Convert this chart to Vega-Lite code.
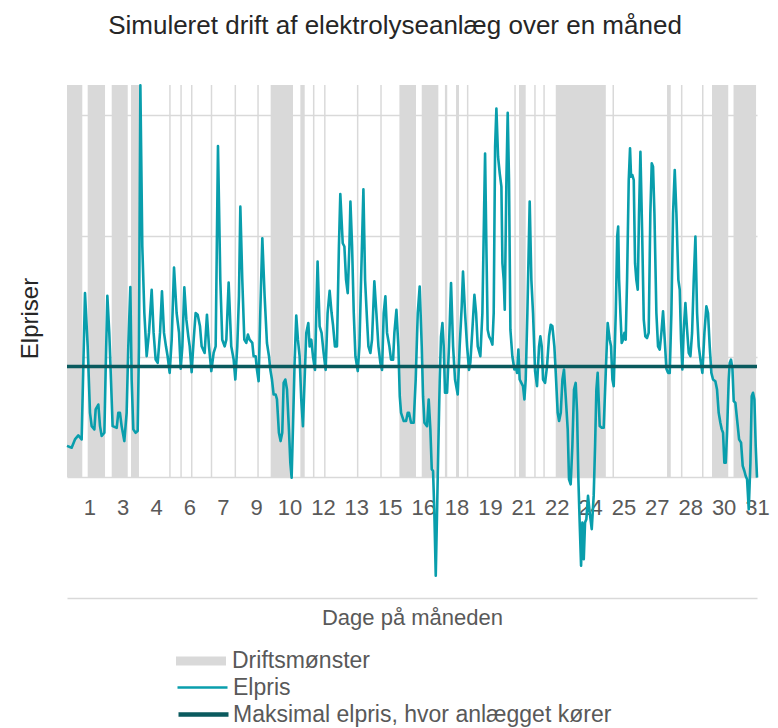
{
  "$schema": "https://vega.github.io/schema/vega-lite/v6.json",
  "width": 690,
  "height": 513,
  "autosize": {"type": "none"},
  "padding": {"left": 67, "top": 85, "right": 21, "bottom": 130},
  "background": "white",
  "title": {"text": "Simuleret drift af elektrolyseanlæg over en måned", "anchor": "middle", "frame": "group", "dx": -17, "offset": 45, "fontSize": 26, "font": "Liberation Sans", "fontWeight": "normal", "color": "#262626"},
  "config": {"view": {"stroke": null}, "font": "Liberation Sans", "axisX": {"labelOverlap": false, "labelFlush": false, "labelBound": false, "tickCount": 40}},
  "datasets": {
    "drift": [
      {"fra": 0, "til": 16.5}, {"fra": 22.3, "til": 41}, {"fra": 48.2, "til": 65.5}, {"fra": 69, "til": 77.6},
      {"fra": 110.2, "til": 111.8}, {"fra": 122.2, "til": 123.8}, {"fra": 133.7, "til": 135.3}, {"fra": 155, "til": 156.6},
      {"fra": 180.7, "til": 182.3}, {"fra": 205.2, "til": 206.8}, {"fra": 219.6, "til": 243.7}, {"fra": 251.6, "til": 256.3},
      {"fra": 265.2, "til": 266.8}, {"fra": 277.2, "til": 278.8}, {"fra": 312.6, "til": 314.2}, {"fra": 337.8, "til": 339.4},
      {"fra": 358.4, "til": 376.3}, {"fra": 382.5, "til": 400.4}, {"fra": 407.5, "til": 410}, {"fra": 419.5, "til": 422.7},
      {"fra": 431.2, "til": 432.8}, {"fra": 482.3, "til": 483.9}, {"fra": 487.4, "til": 494.6}, {"fra": 503.8, "til": 505.4},
      {"fra": 513.6, "til": 515.2}, {"fra": 527, "til": 581}, {"fra": 588.2, "til": 589.8}, {"fra": 647, "til": 651},
      {"fra": 662, "til": 663.6}, {"fra": 684.7, "til": 686.3}, {"fra": 695.5, "til": 713}, {"fra": 718.7, "til": 743}
    ],
    "elpris": [
      {"t":0,"pris":26},{"t":5,"pris":24.5},{"t":8.6,"pris":31.4},{"t":12.2,"pris":34.7},{"t":15.8,"pris":31.4},{"t":19.4,"pris":152.6},{"t":22.3,"pris":108.5},{"t":24.8,"pris":53.4},{"t":26.6,"pris":42.4},{"t":29.5,"pris":39.7},{"t":30.9,"pris":56.2},{"t":33.8,"pris":60.3},{"t":35.6,"pris":42.4},{"t":37.4,"pris":34.2},{"t":40.3,"pris":36.9},{"t":41.7,"pris":89.3},{"t":43.5,"pris":150.4},{"t":45.6,"pris":119.6},{"t":47.4,"pris":81},{"t":49.2,"pris":42.4},{"t":53.6,"pris":41},{"t":55.3,"pris":53.4},{"t":57.1,"pris":53.4},{"t":58.9,"pris":42.4},{"t":61.8,"pris":30},{"t":64.3,"pris":53.4},{"t":66.1,"pris":108.5},{"t":68.3,"pris":157.6},{"t":69.7,"pris":81},{"t":71.5,"pris":39.7},{"t":74,"pris":36.9},{"t":76.2,"pris":38.3},{"t":77.6,"pris":108.5},{"t":79.1,"pris":324.8},{"t":81.2,"pris":191.2},{"t":83.4,"pris":136.1},{"t":85.9,"pris":100.3},{"t":88.4,"pris":119.6},{"t":91.3,"pris":155.4},{"t":93.4,"pris":119.6},{"t":95.6,"pris":97.5},{"t":97.8,"pris":94.8},{"t":100.3,"pris":119.6},{"t":102.4,"pris":154},{"t":104.6,"pris":119.6},{"t":106.7,"pris":108.5},{"t":108.5,"pris":100.3},{"t":110.7,"pris":86.5},{"t":112.9,"pris":114},{"t":115.4,"pris":173.8},{"t":118.2,"pris":136.1},{"t":120.8,"pris":119.6},{"t":122.6,"pris":90},{"t":124.4,"pris":108.5},{"t":126.5,"pris":157.3},{"t":128.7,"pris":130.6},{"t":130.8,"pris":116.8},{"t":132.3,"pris":108.5},{"t":134.4,"pris":87.1},{"t":136.6,"pris":114},{"t":138.7,"pris":136.1},{"t":140.9,"pris":134.7},{"t":143.4,"pris":125.1},{"t":145.2,"pris":108.5},
      {"t":148.4,"pris":103},{"t":150.9,"pris":134.7},{"t":153.1,"pris":108.5},{"t":155.6,"pris":88},{"t":158.1,"pris":103},{"t":160.3,"pris":108.5},{"t":162.8,"pris":274.4},{"t":165.3,"pris":163.6},{"t":167.4,"pris":114},{"t":170,"pris":108.5},{"t":171.8,"pris":114},{"t":174.3,"pris":161.4},{"t":177.1,"pris":108.5},{"t":179.7,"pris":97.5},{"t":181.5,"pris":81},{"t":183.6,"pris":108.5},{"t":185.4,"pris":149.9},{"t":186.9,"pris":224.2},{"t":189,"pris":163.6},{"t":191.2,"pris":114},{"t":193.3,"pris":111.3},{"t":195.1,"pris":118.2},{"t":196.9,"pris":114},{"t":199.8,"pris":111.3},{"t":201.2,"pris":100.3},{"t":203.4,"pris":100.3},{"t":204.8,"pris":89.3},{"t":206.6,"pris":79.6},{"t":208.4,"pris":136.1},{"t":210.6,"pris":198.1},{"t":213.1,"pris":149.9},{"t":215.6,"pris":111.3},{"t":217.8,"pris":100.3},{"t":219.2,"pris":89.3},{"t":221,"pris":81},{"t":222.8,"pris":68.6},{"t":225,"pris":68.6},{"t":226.4,"pris":64.5},{"t":228.5,"pris":36.9},{"t":230.3,"pris":30},{"t":232.1,"pris":36.9},{"t":233.6,"pris":78.2},{"t":235.4,"pris":81},{"t":237.2,"pris":72.7},{"t":239.3,"pris":39.7},{"t":240.8,"pris":12.1},{"t":242.2,"pris":-0.3},{"t":243.6,"pris":39.7},{"t":245.4,"pris":94.8},{"t":247.2,"pris":133.9},{"t":249,"pris":114},{"t":250.8,"pris":100.3},{"t":252.6,"pris":64.5},{"t":254.4,"pris":42.4},{"t":256.2,"pris":81},{"t":258,"pris":119.6},{"t":260.2,"pris":127.8},{"t":261.6,"pris":108.5},{"t":263.4,"pris":114},{"t":265.2,"pris":100.3},{"t":267.4,"pris":89},{"t":268.8,"pris":136.1},{"t":270.2,"pris":178.8},{"t":272.4,"pris":125.1},{"t":274.5,"pris":119.6},{"t":276.7,"pris":103},{"t":278.9,"pris":89},{"t":281,"pris":136.1},{"t":283.2,"pris":154.5},{"t":285.3,"pris":136.1},{"t":286.8,"pris":126.4},{"t":288.9,"pris":108.5},{"t":291.1,"pris":108.5},{"t":293.2,"pris":191.2},{"t":294.7,"pris":234.7},
      {"t":297.3,"pris":193.9},{"t":299.1,"pris":191.2},{"t":300.9,"pris":163.6},{"t":302.7,"pris":152.6},{"t":304.5,"pris":191.2},{"t":305.6,"pris":228.4},{"t":307.4,"pris":191.2},{"t":309.2,"pris":136.1},{"t":311,"pris":100.3},{"t":313.5,"pris":88},{"t":315.3,"pris":108.5},{"t":317.1,"pris":163.6},{"t":319.6,"pris":238.6},{"t":321.4,"pris":163.6},{"t":323.5,"pris":130.6},{"t":325,"pris":108.5},{"t":327.1,"pris":103},{"t":328.9,"pris":114},{"t":331.4,"pris":162.3},{"t":333.6,"pris":136.1},{"t":335.8,"pris":108.5},{"t":337.9,"pris":94.8},{"t":339.7,"pris":89},{"t":341.5,"pris":136.1},{"t":343.3,"pris":149.9},{"t":345.1,"pris":119.6},{"t":347.6,"pris":108.5},{"t":349.4,"pris":97.5},{"t":351.6,"pris":97.5},{"t":353,"pris":119.6},{"t":355.2,"pris":138.8},{"t":357.3,"pris":108.5},{"t":358.8,"pris":67.2},{"t":360.2,"pris":53.4},{"t":363.1,"pris":46.6},{"t":365.6,"pris":46.6},{"t":367.4,"pris":53.4},{"t":368.8,"pris":53.4},{"t":371,"pris":45.2},{"t":373.8,"pris":45.2},{"t":376,"pris":81},{"t":378.2,"pris":136.1},{"t":380.3,"pris":158.1},{"t":382.5,"pris":108.5},{"t":383.9,"pris":67.2},{"t":385.4,"pris":45.2},{"t":388.2,"pris":42.4},{"t":390,"pris":64.5},{"t":391.8,"pris":39.7},{"t":393.3,"pris":6.6},{"t":394.7,"pris":5.2},{"t":396.1,"pris":-29.2},{"t":397.6,"pris":-81.5},{"t":399,"pris":-29.2},{"t":400.4,"pris":25.9},{"t":401.9,"pris":81},{"t":403.3,"pris":116.8},{"t":404.8,"pris":127.8},{"t":406.2,"pris":108.5},{"t":407.6,"pris":70},{"t":409.8,"pris":70},{"t":411.9,"pris":108.5},{"t":414.1,"pris":160.9},{"t":416.3,"pris":108.5},{"t":418.4,"pris":81},{"t":421.3,"pris":68.6},{"t":423.4,"pris":108.5},{"t":425.6,"pris":141.6},{"t":427,"pris":170.5},{"t":429.2,"pris":136.1},{"t":431.4,"pris":108.5},{"t":433.5,"pris":89},{"t":434.9,"pris":94.8},{"t":437.1,"pris":122.3},{"t":439.3,"pris":151.2},{"t":441.1,"pris":136.1},{"t":442.9,"pris":108.5},{"t":445.7,"pris":100.3},
      {"t":447.9,"pris":136.1},{"t":449.7,"pris":218.7},{"t":450.8,"pris":268.3},{"t":452.2,"pris":191.2},{"t":453.6,"pris":122.3},{"t":455.1,"pris":116.8},{"t":456.9,"pris":114},{"t":458.7,"pris":109.9},{"t":460.1,"pris":136.1},{"t":461.6,"pris":273.8},{"t":463,"pris":305.5},{"t":464.8,"pris":265.6},{"t":466.6,"pris":251.8},{"t":468.4,"pris":240.8},{"t":469.5,"pris":177.4},{"t":470.9,"pris":163.6},{"t":472,"pris":138.8},{"t":473.8,"pris":246.3},{"t":475.2,"pris":301.9},{"t":476.6,"pris":246.3},{"t":478.1,"pris":122.3},{"t":480.2,"pris":100.3},{"t":482.4,"pris":89.3},{"t":483.8,"pris":92},{"t":485.3,"pris":86.5},{"t":486.7,"pris":105.8},{"t":488.1,"pris":81},{"t":489.9,"pris":78.2},{"t":491.7,"pris":75.5},{"t":493.2,"pris":64.5},{"t":494.6,"pris":81},{"t":496.4,"pris":136.1},{"t":498.9,"pris":228.4},{"t":500.7,"pris":163.6},{"t":502.5,"pris":136.1},{"t":504.7,"pris":88},{"t":506.8,"pris":75.5},{"t":509,"pris":108.5},{"t":510.4,"pris":116.8},{"t":511.9,"pris":108.5},{"t":513.3,"pris":81},{"t":515.5,"pris":78.2},{"t":517.6,"pris":92},{"t":519.8,"pris":116.8},{"t":521.6,"pris":126.4},{"t":523.4,"pris":125.1},{"t":525.5,"pris":108.5},{"t":527,"pris":86.5},{"t":529.1,"pris":53.4},{"t":530.6,"pris":46.6},{"t":532.4,"pris":53.4},{"t":534.2,"pris":81},{"t":535.9,"pris":89.3},{"t":537.7,"pris":67.2},{"t":539.9,"pris":39.7},{"t":541.3,"pris":-1.7},{"t":543.1,"pris":-5.8},{"t":544.9,"pris":25.9},{"t":546.7,"pris":72.7},{"t":548.5,"pris":78.2},{"t":550,"pris":53.4},{"t":551.4,"pris":-1.7},{"t":552.8,"pris":-37.5},{"t":554.3,"pris":-73.3},{"t":555.7,"pris":-37.5},{"t":557.2,"pris":-67.8},{"t":558.6,"pris":-37.5},{"t":560,"pris":-34.7},{"t":561.8,"pris":-15.4},{"t":563.6,"pris":-29.2},{"t":565.8,"pris":-43},{"t":567.9,"pris":-15.4},{"t":569.4,"pris":25.9},{"t":570.8,"pris":72.7},{"t":572.2,"pris":86.5},{"t":574.4,"pris":42.4},{"t":576.6,"pris":41},{"t":578.7,"pris":41},{"t":580.9,"pris":86.5},{"t":583,"pris":127.8},{"t":585.2,"pris":114},{"t":586.6,"pris":108.5},{"t":588.1,"pris":81},{"t":589.5,"pris":75.5},{"t":591.7,"pris":136.1},{"t":593.3,"pris":200},
      {"t":594.3,"pris":207.7},{"t":595.3,"pris":163.6},{"t":596.7,"pris":136.1},{"t":598.1,"pris":111.3},{"t":599.6,"pris":114},{"t":601,"pris":119.6},{"t":602.4,"pris":114},{"t":603.9,"pris":163.6},{"t":605.7,"pris":246.3},{"t":607.1,"pris":272.5},{"t":608.2,"pris":249},{"t":609.6,"pris":250.4},{"t":611.1,"pris":246.3},{"t":612.5,"pris":177.4},{"t":613.9,"pris":163.6},{"t":615.4,"pris":155.4},{"t":616.8,"pris":218.7},{"t":618.3,"pris":269.7},{"t":620.1,"pris":205},{"t":621.9,"pris":130.6},{"t":623.6,"pris":116.8},{"t":625.4,"pris":115.4},{"t":627.2,"pris":119.6},{"t":629,"pris":218.7},{"t":630.5,"pris":260.1},{"t":631.9,"pris":257.3},{"t":633.4,"pris":218.7},{"t":635.5,"pris":136.1},{"t":637.3,"pris":108.5},{"t":639.1,"pris":105.8},{"t":640.9,"pris":119.6},{"t":642.7,"pris":137.5},{"t":644.5,"pris":114},{"t":646.3,"pris":90},{"t":648.1,"pris":86.5},{"t":649.9,"pris":86.5},{"t":651.7,"pris":136.1},{"t":653.5,"pris":218.7},{"t":655.3,"pris":254.5},{"t":657.1,"pris":218.7},{"t":659.2,"pris":163.6},{"t":660.7,"pris":155.4},{"t":662.1,"pris":114},{"t":663.5,"pris":89.3},{"t":665,"pris":122.3},{"t":666.8,"pris":144.4},{"t":668.6,"pris":122.3},{"t":670.4,"pris":103},{"t":672.2,"pris":100.3},{"t":674,"pris":119.6},{"t":675.8,"pris":163.6},{"t":677.6,"pris":199.4},{"t":679.4,"pris":136.1},{"t":681.2,"pris":108.5},{"t":683,"pris":97.5},{"t":685.1,"pris":86.5},{"t":687.3,"pris":119.6},{"t":689.4,"pris":141.6},{"t":691.2,"pris":136.1},{"t":693,"pris":108.5},{"t":694.8,"pris":86.5},{"t":696.6,"pris":81},{"t":699.1,"pris":79.6},{"t":700.9,"pris":72.7},{"t":702.7,"pris":53.4},{"t":704.5,"pris":45.2},{"t":706,"pris":39.7},{"t":707.4,"pris":36.9},{"t":708.8,"pris":12.1},{"t":710.3,"pris":12.1},{"t":711.7,"pris":36.9},{"t":713.5,"pris":81},{"t":714.6,"pris":94.8},{"t":716,"pris":97.5},{"t":717.5,"pris":90},{"t":718.9,"pris":63.1},{"t":720.7,"pris":61.7},{"t":722.5,"pris":47.9},{"t":724.7,"pris":31.4},{"t":726.8,"pris":28.7},{"t":728.6,"pris":9.4},{"t":730.4,"pris":5.2},{"t":731.8,"pris":1.1},{"t":733.3,"pris":-1.7},{"t":735.1,"pris":-26.4},{"t":736.9,"pris":12.1},{"t":738.3,"pris":67.2},{"t":739.7,"pris":70},{"t":741.2,"pris":64.5},{"t":742.6,"pris":25.9},{"t":744,"pris":-0.3}
    ],
    "maks": [{"serie": "Maksimal elpris, hvor anlægget kører", "pris": 91.7}]
  },
  "layer": [
    {
      "data": {"name": "drift"},
      "mark": {"type": "rect"},
      "encoding": {
        "x": {"field": "fra", "type": "quantitative", "title": "Dage på måneden",
          "scale": {"domain": [0, 744], "nice": false, "zero": false},
          "axis": {"values": [24,60,96,132,168,204,240,276,312,348,384,420,456,492,528,564,600,636,672,708,744], "tickCount": 40,
            "labelExpr": "ceil(datum.value / 24)", "offset": -120, "domain": false, "ticks": false, "grid": false,
            "labelOverlap": false, "labelFlush": false, "labelBound": false, "labelPadding": 19,
            "labelFont": "Liberation Sans", "labelFontSize": 22, "labelColor": "#595959",
            "titleFont": "Liberation Sans", "titleFontSize": 22, "titleFontWeight": "normal", "titleColor": "#595959",
            "titleY": 139, "titleBaseline": "middle", "titleAlign": "center"}},
        "x2": {"field": "til"},
        "y": {"datum": 0, "type": "quantitative", "title": "Elpriser",
          "scale": {"domain": [-100, 325], "nice": false, "zero": false},
          "axis": {"values": [-100, 0, 100, 200, 300], "labels": false, "ticks": false, "domain": false,
            "grid": true, "gridColor": "#d9d9d9", "gridWidth": 1.5,
            "titleFont": "Liberation Sans", "titleFontSize": 24, "titleFontWeight": "normal", "titleColor": "#262626",
            "titleX": -37, "titleY": 233, "titleAngle": -90, "titleAlign": "center", "titleBaseline": "middle"}},
        "y2": {"datum": 325},
        "fill": {"datum": "Driftsmønster", "type": "nominal",
          "scale": {"domain": ["Driftsmønster"], "range": ["#d9d9d9"]},
          "legend": {"title": null, "orient": "none", "legendX": 109, "legendY": 551, "padding": 0,
            "symbolType": "M-1,-0.18H1V0.18H-1Z", "symbolSize": 2500, "symbolStrokeWidth": 0, "symbolOpacity": 1,
            "labelFont": "Liberation Sans", "labelFontSize": 23, "labelColor": "#595959", "labelOffset": 6, "labelLimit": 600}}
      }
    },
    {
      "data": {"name": "elpris"},
      "mark": {"type": "line", "strokeWidth": 2.6, "strokeJoin": "round"},
      "encoding": {
        "x": {"field": "t", "type": "quantitative", "title": "Dage på måneden"},
        "y": {"field": "pris", "type": "quantitative", "title": "Elpriser"},
        "stroke": {"datum": "Elpris", "type": "nominal",
          "scale": {"domain": ["Elpris"], "range": ["#099eac"]},
          "legend": {"title": null, "orient": "none", "legendX": 109, "legendY": 576, "padding": 0,
            "symbolType": "M-1,0H1", "symbolSize": 2500, "symbolStrokeWidth": 2.3,
            "labelFont": "Liberation Sans", "labelFontSize": 23, "labelColor": "#595959", "labelOffset": 4, "labelLimit": 600}}
      }
    },
    {
      "data": {"name": "maks"},
      "mark": {"type": "rule", "strokeWidth": 3.5, "color": "#0a5a5e"},
      "encoding": {
        "y": {"field": "pris", "type": "quantitative", "title": "Elpriser"},
        "strokeDash": {"field": "serie", "type": "nominal",
          "scale": {"domain": ["Maksimal elpris, hvor anlægget kører"], "range": [[1, 0]]},
          "legend": {"title": null, "orient": "none", "legendX": 109, "legendY": 602, "padding": 0,
            "symbolType": "M-1,0H1", "symbolSize": 2500, "symbolStrokeWidth": 4.5, "symbolStrokeColor": "#0a5a5e",
            "labelFont": "Liberation Sans", "labelFontSize": 23, "labelColor": "#595959", "labelOffset": 2, "labelLimit": 600}}
      }
    }
  ]
}
